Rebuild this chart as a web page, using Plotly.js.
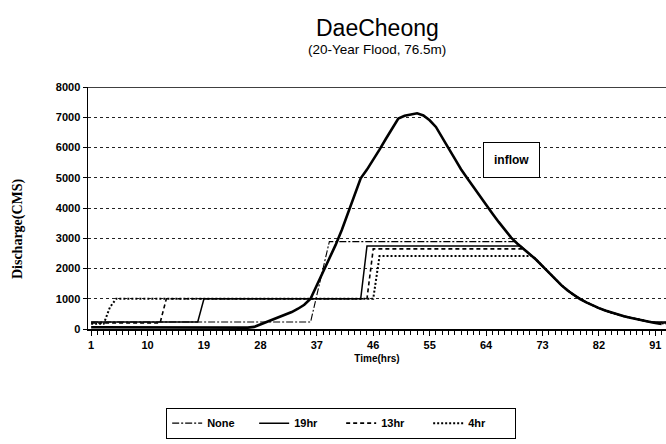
<!DOCTYPE html>
<html>
<head>
<meta charset="utf-8">
<script src="https://cdn.plot.ly/plotly-3.0.1.min.js"></script>
<style>html,body{margin:0;padding:0;background:#fff;}#chart{width:666px;height:444px;}</style>
</head>
<body>
<div id="chart"></div>
<script>
// Data
var hours = [];
for (var i = 1; i <= 92; i++) hours.push(i);
var inflow = [60,60,55,55,50,50,50,50,45,45,
              45,45,45,45,40,40,40,40,40,40,
              40,40,40,40,40,45,70,150,230,300,
              380,470,560,670,800,1000,1450,1900,2320,2780,
              3280,3850,4450,4980,5270,5580,5930,6280,6620,6960,
              7050,7100,7130,7060,6900,6680,6350,5980,5630,5280,
              4980,4680,4390,4100,3820,3540,3280,3020,2820,2650,
              2490,2290,2080,1870,1650,1450,1270,1120,990,880,
              780,690,610,540,480,420,370,320,280,240,
              200,170];

var noneHours = [1, 36, 39, 68.6, 70, 72, 74, 76, 78, 80, 82, 84, 86, 88, 90, 91, 92.7];
var noneQ     = [230, 230, 2890, 2890, 2650, 2290, 1870, 1450, 1120, 880, 690, 540, 420, 320, 240, 220, 220];

var h19Hours = [1, 18, 19, 44, 45, 69.5, 70, 72, 74, 76, 78, 80, 82, 84, 86, 88, 90, 91, 92.7];
var h19Q     = [230, 230, 1000, 1000, 2740, 2740, 2650, 2290, 1870, 1450, 1120, 880, 690, 540, 420, 320, 240, 230, 230];

var h13Hours = [1, 12, 13, 45, 46, 70, 72, 74, 76, 78, 80, 82, 84, 86, 88, 90, 91, 92.7];
var h13Q     = [200, 200, 1000, 1000, 2650, 2650, 2290, 1870, 1450, 1120, 880, 690, 540, 420, 320, 240, 200, 200];

var h4Hours = [1, 3, 4, 5, 46, 47, 71.5, 72, 74, 76, 78, 80, 82, 84, 86, 88, 90, 91, 92.7];
var h4Q     = [170, 170, 720, 1000, 1000, 2410, 2410, 2290, 1870, 1450, 1120, 880, 690, 540, 420, 320, 240, 200, 180];

var xTickVals = [1, 10, 19, 28, 37, 46, 55, 64, 73, 82, 91];
var xTickText = ['1', '10', '19', '28', '37', '46', '55', '64', '73', '82', '91'];
var yTickVals = [0, 1000, 2000, 3000, 4000, 5000, 6000, 7000, 8000];

var sans = 'Liberation Sans, Arial, sans-serif';
var serif = 'Liberation Serif, Times New Roman, serif';

var traces = [
  {x: hours, y: inflow, mode: 'lines', name: 'inflow', showlegend: false,
   line: {color: '#000', width: 2.6}},
  {x: noneHours, y: noneQ, mode: 'lines', name: 'None',
   line: {color: '#000', width: 1.1, dash: '7px,2px,2px,2px'}},
  {x: h19Hours, y: h19Q, mode: 'lines', name: '19hr',
   line: {color: '#000', width: 1.5}},
  {x: h13Hours, y: h13Q, mode: 'lines', name: '13hr',
   line: {color: '#000', width: 1.6, dash: '4px,3px'}},
  {x: h4Hours, y: h4Q, mode: 'lines', name: '4hr',
   line: {color: '#000', width: 2, dash: '2px,2px'}}
];

var layout = {
  width: 666, height: 444,
  margin: {l: 88, r: 0, t: 87, b: 115},
  paper_bgcolor: '#fff', plot_bgcolor: '#fff',
  font: {family: sans, color: '#000'},
  showlegend: true,
  legend: {
    orientation: 'h', x: 0.438, xanchor: 'center', y: -0.325, yanchor: 'top',
    bordercolor: '#000', borderwidth: 1, bgcolor: '#fff',
    font: {family: sans, size: 11, weight: 'bold', color: '#000'},
    itemwidth: 30, entrywidth: 42, tracegroupgap: 0
  },
  xaxis: {
    range: [0.5, 92.7], tickmode: 'array', tickvals: xTickVals, ticktext: xTickText,
    ticks: 'outside', ticklen: 5, tickwidth: 1, tickcolor: '#000',
    minor: {dtick: 1, tick0: 1, ticks: 'outside', ticklen: 4, tickcolor: '#000', tickwidth: 1, showgrid: false},
    showline: true, linecolor: '#000', linewidth: 1.5, showgrid: false, zeroline: false,
    tickfont: {family: sans, size: 11, weight: 'bold', color: '#000'},
    title: {text: 'Time(hrs)', font: {family: sans, size: 10, weight: 'bold', color: '#000'}, standoff: 5}
  },
  yaxis: {
    range: [0, 8000], tickmode: 'array', tickvals: yTickVals,
    ticks: 'outside', ticklen: 4, tickcolor: '#000',
    showline: true, linecolor: '#000', linewidth: 1.5,
    showgrid: true, gridcolor: '#222', gridwidth: 1, griddash: 'dot', zeroline: false,
    tickfont: {family: sans, size: 11, weight: 'bold', color: '#000'}
  },
  shapes: [
    {type: 'line', xref: 'paper', yref: 'y', x0: 0, x1: 1, y0: 8000, y1: 8000,
     line: {color: '#000', width: 1.5}}
  ],
  annotations: [
    {xref: 'paper', yref: 'paper', x: 0.5, y: 1, yshift: 59, xanchor: 'center', yanchor: 'middle',
     text: 'DaeCheong', showarrow: false, font: {family: sans, size: 23, color: '#000'}},
    {xref: 'paper', yref: 'paper', x: 0.5, y: 1, yshift: 38, xanchor: 'center', yanchor: 'middle',
     text: '(20-Year Flood, 76.5m)', showarrow: false, font: {family: sans, size: 13.5, color: '#000'}},
    {xref: 'paper', yref: 'paper', x: 0, xshift: -70, y: 0.413, xanchor: 'center', yanchor: 'middle',
     text: 'Discharge(CMS)', textangle: -90, showarrow: false,
     font: {family: serif, size: 14, weight: 'bold', color: '#000'}},
    {xref: 'x', yref: 'y', x: 68, y: 5600, text: 'inflow', showarrow: false,
     font: {family: sans, size: 12, weight: 'bold', color: '#000'},
     bordercolor: '#000', borderwidth: 1, borderpad: 10, bgcolor: '#fff'}
  ]
};

Plotly.newPlot('chart', traces, layout, {displayModeBar: false, staticPlot: true});
</script>
</body>
</html>
